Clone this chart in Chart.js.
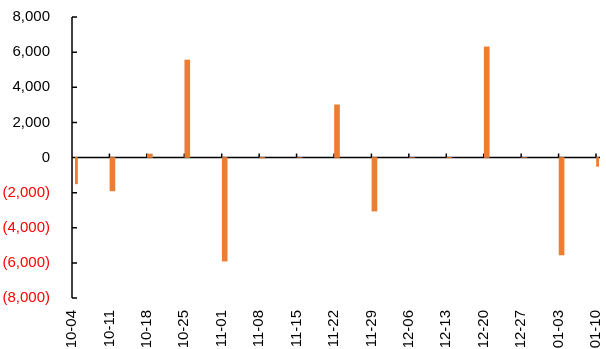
<!DOCTYPE html>
<html>
<head>
<meta charset="utf-8">
<script src="https://cdn.jsdelivr.net/npm/chart.js@4.4.1/dist/chart.umd.min.js"></script>
<style>
  html, body { margin: 0; padding: 0; background: #fff; }
  #wrap { width: 606px; height: 349px; }
</style>
</head>
<body>
<div id="wrap"><canvas id="myChart"></canvas></div>
<script>
// weekly dates on the x axis
const dates = ["10-04","10-11","10-18","10-25","11-01","11-08","11-15","11-22","11-29","12-06","12-13","12-20","12-27","01-03","01-10"];
// values
const flows = [-1500, -1900, 200, 5550, -5900, -30, 0, 3000, -3050, 0, -20, 6300, 0, -5550, -500];
const yTicks = [-8000, -6000, -4000, -2000, 0, 2000, 4000, 6000, 8000];

const barColor = "#ED7D31";

function fmt(v){
    const s = Math.abs(v).toLocaleString("en-US");
    return v < 0 ? "(" + s + ")" : s;
}

// axis lines and inside tick marks, like the original
const axisPlugin = {
    id: "axisMarks",
    beforeDatasetsDraw(chart){
        const ctx = chart.ctx;
        const x = chart.scales.x, y = chart.scales.y;
        const zero = y.getPixelForValue(0);
        ctx.save();
        ctx.strokeStyle = "#000";
        ctx.lineWidth = 1.5;
        // left axis
        ctx.beginPath();
        ctx.moveTo(x.left, y.top);
        ctx.lineTo(x.left, y.bottom);
        yTicks.forEach(t => {
            const py = y.getPixelForValue(t);
            ctx.moveTo(x.left, py);
            ctx.lineTo(x.left + 5, py);
        });
        // zero line
        ctx.moveTo(x.left, zero);
        ctx.lineTo(x.right + 4, zero);
        dates.forEach((d, i) => {
            const px = x.getPixelForValue(i);
            ctx.moveTo(px, zero);
            ctx.lineTo(px, zero - 4);
        });
        ctx.stroke();
        ctx.restore();
        // bars sit just right of the tick
        ctx.save();
        ctx.translate(3, 0);
    },
    afterDatasetsDraw(chart){
        chart.ctx.restore();
    }
};

new Chart(document.getElementById("myChart"), {
    type: "bar",
    data: {
        labels: dates,
        datasets: [{
            data: flows,
            backgroundColor: barColor,
            borderWidth: 0,
            barThickness: 5
        }]
    },
    options: {
        responsive: true,
        maintainAspectRatio: false,
        animation: false,
        layout: { padding: { top: 0, right: 0, left: 0, bottom: 0 } },
        plugins: {
            legend: { display: false },
            tooltip: { enabled: false }
        },
        scales: {
            x: {
                offset: false,
                grid: { display: false },
                border: { display: false },
                ticks: {
                    minRotation: 90,
                    maxRotation: 90,
                    autoSkip: false,
                    padding: 4,
                    color: "#000",
                    font: { family: "Liberation Sans, Arial", size: 15 }
                },
                afterFit(scale){
                    scale.height = 51;
                    scale.paddingRight = 10;
                    scale.paddingLeft = 0;
                }
            },
            y: {
                min: -8000,
                max: 8000,
                afterBuildTicks(scale){ scale.ticks = yTicks.map(v => ({ value: v })); },
                grid: { display: false },
                border: { display: false },
                ticks: {
                    padding: 14,
                    callback: v => fmt(v),
                    color: ctx => ctx.tick.value < 0 ? "#FF0000" : "#000",
                    font: { family: "Liberation Sans, Arial", size: 15 }
                },
                afterFit(scale){
                    scale.width = 72;
                    scale.paddingTop = 17;
                    scale.paddingBottom = 0;
                }
            }
        }
    },
    plugins: [axisPlugin]
});
</script>
</body>
</html>
